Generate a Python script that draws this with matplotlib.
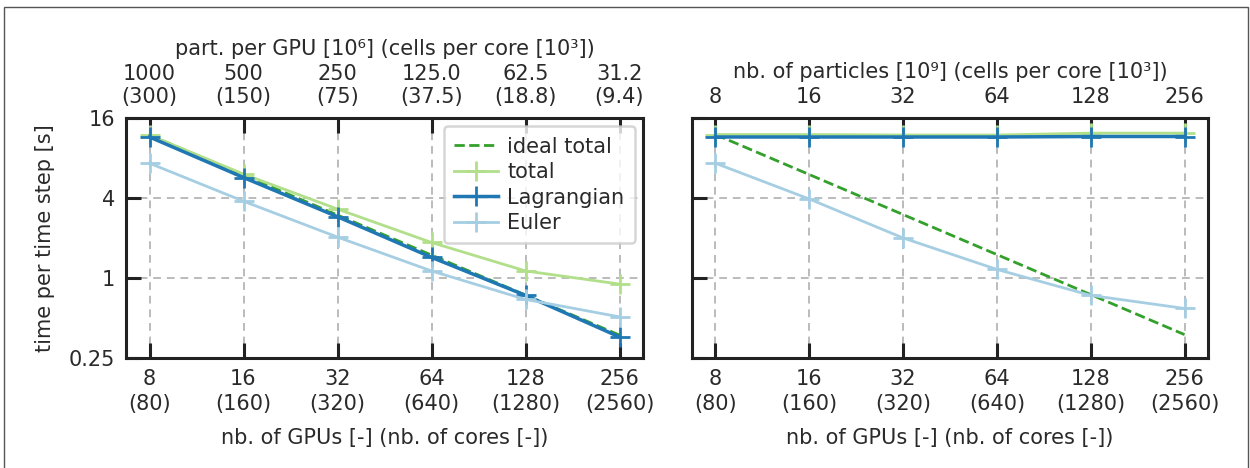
import matplotlib.pyplot as plt
from matplotlib.patches import Rectangle
from matplotlib.ticker import NullLocator

# GPU counts and CPU core counts
gpus = [8, 16, 32, 64, 128, 256]
cores = [80, 160, 320, 640, 1280, 2560]

# strong scaling (left panel)
strong_top = ["1000\n(300)", "500\n(150)", "250\n(75)", "125.0\n(37.5)", "62.5\n(18.8)", "31.2\n(9.4)"]
strong_total = [11.9, 6.05, 3.3, 1.85, 1.13, 0.9]
strong_lagr = [11.5, 5.7, 2.89, 1.43, 0.74, 0.36]
strong_euler = [7.3, 3.78, 2.03, 1.13, 0.69, 0.51]

# weak scaling (right panel)
weak_top = ["8", "16", "32", "64", "128", "256"]
weak_total = [12.0, 12.0, 11.9, 11.9, 12.3, 12.3]
weak_lagr = [11.5, 11.5, 11.5, 11.5, 11.6, 11.6]
weak_euler = [7.3, 3.93, 2.0, 1.16, 0.74, 0.59]

c_ideal = "#33a02c"
c_total = "#b2df8a"
c_lagr = "#1f78b4"
c_euler = "#a6cee3"
txt = "#2a2a2a"

plt.rcParams['font.family'] = ['DejaVu Sans']
plt.rcParams['font.size'] = 15
plt.rcParams['text.color'] = txt
plt.rcParams['axes.labelcolor'] = txt
plt.rcParams['xtick.labelcolor'] = txt
plt.rcParams['ytick.labelcolor'] = txt

fig = plt.figure(figsize=(12.5, 4.68), dpi=100)
fig.patches.append(Rectangle((0.003, -0.01), 0.995, 0.994, transform=fig.transFigure,
                             fill=False, edgecolor="#555555", linewidth=1))

ax1 = fig.add_axes([0.1008, 0.235, 0.4136, 0.513])
ax2 = fig.add_axes([0.5536, 0.235, 0.4128, 0.513])

bottom_labels = [f"{g}\n({c})" for g, c in zip(gpus, cores)]


def style_axis(ax, toplabels, toptitle, showy):
    ax.set_xscale("log", base=2)
    ax.set_yscale("log", base=2)
    ax.set_ylim(0.25, 16)
    ax.set_xticks(gpus)
    ax.set_xticklabels(bottom_labels, linespacing=1.3)
    ax.minorticks_off()
    ax.set_yticks([0.25, 1, 4, 16])
    if showy:
        ax.set_yticklabels(["0.25", "1", "4", "16"])
        ax.set_ylabel("time per time step [s]", labelpad=10)
    else:
        ax.set_yticklabels([])
    ax.set_xlabel("nb. of GPUs [-] (nb. of cores [-])", labelpad=10)
    ax.grid(True, color="#bbbbbb", linestyle=(0, (4, 3)), linewidth=1.4)
    ax.tick_params(direction="in", length=11, width=2.2, top=True, right=False,
                   color="#222222", pad=8)
    for s in ax.spines.values():
        s.set_linewidth(2.2)
        s.set_color("#222222")
    sec = ax.secondary_xaxis("top")
    sec.set_xticks(gpus)
    sec.set_xticklabels(toplabels)
    sec.xaxis.set_minor_locator(NullLocator())
    sec.tick_params(length=0, pad=8)
    sec.set_xlabel(toptitle, labelpad=6)
    sec.spines["top"].set_visible(False)


kw = dict(marker="+", markersize=14, markeredgewidth=2)

ideal1 = [strong_total[0] * gpus[0] / g for g in gpus]
ax1.plot(gpus, ideal1, color=c_ideal, linestyle="--", linewidth=2, label="ideal total")
ax1.plot(gpus, strong_total, color=c_total, linewidth=2, label="total", **kw)
ax1.plot(gpus, strong_lagr, color=c_lagr, linewidth=2.5, label="Lagrangian", **kw)
ax1.plot(gpus, strong_euler, color=c_euler, linewidth=2, label="Euler", **kw)
style_axis(ax1, strong_top, "part. per GPU [10⁶] (cells per core [10³])", True)
leg = ax1.legend(loc="upper right", frameon=True, fancybox=True, edgecolor="#cccccc",
                 framealpha=0.8, handlelength=2.1, handletextpad=0.45, borderpad=0.5,
                 labelspacing=0.26, fontsize=15, borderaxespad=0.4)
leg.get_frame().set_linewidth(1.8)

ideal2 = [weak_total[0] * gpus[0] / g for g in gpus]
ax2.plot(gpus, ideal2, color=c_ideal, linestyle="--", linewidth=2)
ax2.plot(gpus, weak_total, color=c_total, linewidth=2, **kw)
ax2.plot(gpus, weak_lagr, color=c_lagr, linewidth=2.5, **kw)
ax2.plot(gpus, weak_euler, color=c_euler, linewidth=2, **kw)
style_axis(ax2, weak_top, "nb. of particles [10⁹] (cells per core [10³])", False)

fig.savefig("out.png", dpi=100)
